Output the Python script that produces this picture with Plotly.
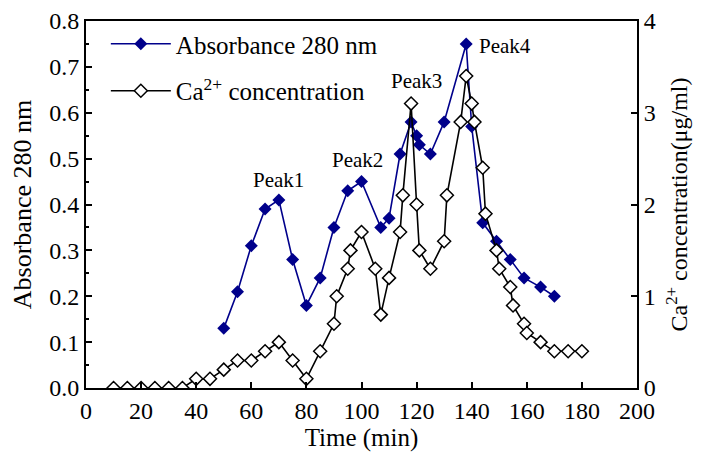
import plotly.graph_objects as go

# Absorbance at 280 nm (left axis)
time_abs = [50, 55, 60, 65, 70, 75, 80, 85, 90, 95, 100, 107, 110, 114, 118, 120, 121,
            125, 130, 138, 140, 144, 149, 154, 159, 165, 170]
absorbance = [0.13, 0.21, 0.31, 0.39, 0.41, 0.28, 0.18, 0.24, 0.35, 0.43, 0.45, 0.35, 0.37,
              0.51, 0.58, 0.55, 0.53, 0.51, 0.58, 0.75, 0.57, 0.36, 0.32, 0.28, 0.24, 0.22, 0.20]

# Ca2+ concentration (right axis)
time_ca = [10, 15, 20, 25, 30, 35, 40, 45, 50, 55, 60, 65, 70, 75, 80, 85, 90, 91, 95, 96,
           100, 105, 107, 110, 114, 115, 118, 120, 121, 125, 130, 131, 136, 138, 140, 141,
           144, 145, 149, 150, 154, 155, 159, 160, 165, 170, 175, 180]
ca_conc = [0, 0, 0, 0, 0, 0, 0.1, 0.1, 0.2, 0.3, 0.3, 0.4, 0.5, 0.3, 0.1, 0.4, 0.7, 1.0, 1.3, 1.5,
           1.7, 1.3, 0.8, 1.2, 1.7, 2.1, 3.1, 2.0, 1.5, 1.3, 1.6, 2.1, 2.9, 3.4, 3.1, 2.9,
           2.4, 1.9, 1.5, 1.3, 1.1, 0.9, 0.7, 0.6, 0.5, 0.4, 0.4, 0.4]

peak_labels = ["Peak1", "Peak2", "Peak3", "Peak4"]
peak_x = [69.7, 98.4, 120, 152]
peak_y = [0.453, 0.497, 0.669, 0.745]

FONT = "Liberation Serif, Times New Roman, serif"
NAVY = "#00008B"

fig = go.Figure()
fig.add_trace(go.Scatter(
    x=time_abs, y=absorbance, name="Absorbance 280 nm", mode="lines+markers",
    line=dict(color=NAVY, width=1.6),
    marker=dict(symbol="diamond", size=10, color=NAVY),
    showlegend=True, legend="legend"))
fig.add_trace(go.Scatter(
    x=time_ca, y=ca_conc, name="Ca<sup>2+</sup> concentration", mode="lines+markers",
    line=dict(color="black", width=1.6),
    marker=dict(symbol="diamond", size=10, color="white", line=dict(color="black", width=1.5)),
    yaxis="y2", showlegend=True, legend="legend2"))

for t, px, py in zip(peak_labels, peak_x, peak_y):
    fig.add_annotation(x=px, y=py, text=t, showarrow=False,
                       font=dict(family=FONT, size=21, color="black"))

axis_common = dict(showline=True, linecolor="black", linewidth=2, ticks="inside",
                   tickcolor="black", ticklen=6, tickwidth=1.5, showgrid=False, zeroline=False,
                   tickfont=dict(family=FONT, size=24, color="black"))

# the page adds an 8px body margin, so the figure is offset by 8px right and down
fig.update_layout(
    width=694, height=448,
    margin=dict(l=78, r=65, t=13, b=68),
    paper_bgcolor="white", plot_bgcolor="white",
    font=dict(family=FONT, color="black"),
    showlegend=True,
    xaxis=dict(range=[0, 200], dtick=20, tick0=0, mirror=True,
               title=dict(text="Time (min)", font=dict(family=FONT, size=25), standoff=3),
               automargin=False, **axis_common),
    yaxis=dict(range=[0, 0.8], dtick=0.1, tickformat=".1f",
               minor=dict(dtick=0.05, ticks="inside", ticklen=3, tickcolor="black"),
               title=dict(text="Absorbance 280 nm", font=dict(family=FONT, size=26), standoff=10),
               automargin=False, **axis_common),
    yaxis2=dict(range=[0, 4], dtick=1, overlaying="y", side="right",
                title=dict(text="Ca<sup>2+</sup> concentration(μg/ml)",
                           font=dict(family=FONT, size=24), standoff=15),
                automargin=False, **axis_common),
    legend=dict(x=0.036, y=1.0, xanchor="left", yanchor="top", bgcolor="rgba(0,0,0,0)",
                itemwidth=60, font=dict(family=FONT, size=25)),
    legend2=dict(x=0.036, y=0.872, xanchor="left", yanchor="top", bgcolor="rgba(0,0,0,0)",
                 itemwidth=60, font=dict(family=FONT, size=25)),
)

fig.write_html("out.html")
